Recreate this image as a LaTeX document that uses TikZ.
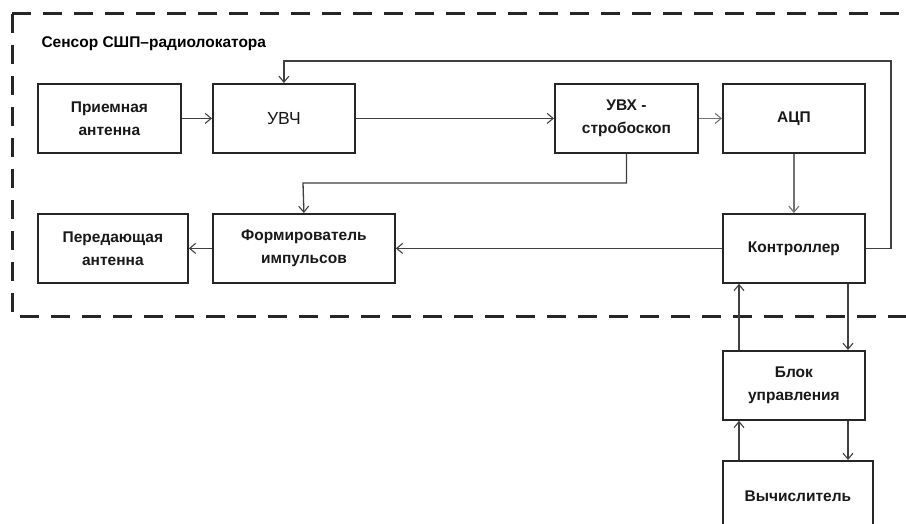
\documentclass[tikz,border=0pt]{standalone}
\usepackage{fontspec}
\setmainfont{Liberation Sans}
\usetikzlibrary{arrows.meta,calc}
\begin{document}
\begin{tikzpicture}[x=1pt,y=-1pt,
  box/.style={draw=black!85,line width=1.8pt,fill=white,rectangle,anchor=north west,inner sep=2pt,
    align=center,font=\bfseries\fontsize{15.5}{23}\selectfont,text=black!90},
  arr/.style={draw=black!75,line width=1.3pt,-{Straight Barb[length=6pt,width=10pt,line width=1.1pt]}},
  larr/.style={arr,draw=black!55},
  frame/.style={draw=black!85,line width=3pt,dash pattern=on 19pt off 12pt}]
\useasboundingbox (0,0) rectangle (906,524);
\clip (0,0) rectangle (906,524);
\fill[white] (0,0) rectangle (906,524);
% dashed frame
\draw[frame] (12,14) -- (930,14);
\draw[frame] (12,14) -- (12,316) -- (930,316);
\node[anchor=base west,font=\bfseries\fontsize{15.5}{18}\selectfont] (title) at (38,48) {Сенсор СШП–радиолокатора};
% boxes
\node[box,minimum width=143pt,minimum height=69pt] (pa) at (37,83) {Приемная\\антенна};
\node[box,minimum width=142pt,minimum height=69pt,font=\fontsize{17.5}{20}\selectfont] (uvch) at (212,83) {УВЧ};
\node[box,minimum width=143pt,minimum height=69pt] (uvx) at (554,83) {УВХ -\\стробоскоп};
\node[box,minimum width=142pt,minimum height=69pt] (adc) at (722,83) {АЦП};
\node[box,minimum width=150pt,minimum height=69pt] (ta) at (37,213) {Передающая\\антенна};
\node[box,minimum width=182pt,minimum height=69pt] (form) at (212,213) {Формирователь\\импульсов};
\node[box,minimum width=142pt,minimum height=69pt] (ctrl) at (722,213) {Контроллер};
\node[box,minimum width=142pt,minimum height=69pt] (bu) at (722,350) {Блок\\управления};
\node[box,minimum width=150pt,minimum height=100pt,text depth=30pt] (vy) at (722,460) {Вычислитель};
% coordinates
\coordinate (fb) at (891,61);
\coordinate (fx) at (303,183);
\coordinate (up) at (739,0);
\coordinate (dn) at (848,0);
% connectors
\draw[arr] (pa.east) -- (uvch.west);
\draw[arr] (uvch.east) -- (uvx.west);
\draw[larr] (uvx.east) -- (adc.west);
\draw[arr] (uvx.south) |- (fx) -- (form.north);
\draw[larr] (adc.south) -- (ctrl.north);
\draw[arr] (ctrl.west) -- (form.east);
\draw[arr] (form.west) -- (ta.east);
\draw[arr] (ctrl.east) -| (fb) -| (uvch.north);
\draw[arr] (bu.north -| up) -- (ctrl.south -| up);
\draw[arr] (ctrl.south -| dn) -- (bu.north -| dn);
\draw[arr] (vy.north -| up) -- (bu.south -| up);
\draw[arr] (bu.south -| dn) -- (vy.north -| dn);
\end{tikzpicture}
\end{document}
